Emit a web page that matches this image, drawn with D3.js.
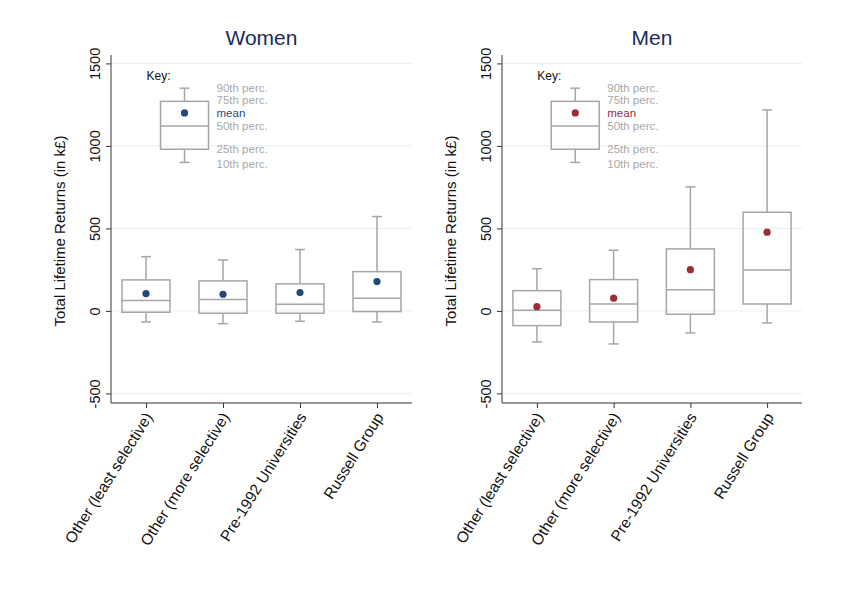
<!DOCTYPE html>
<html>
<head>
<meta charset="utf-8">
<script src="https://cdn.jsdelivr.net/npm/d3@7"></script>
<style>
  body { margin: 0; background: #fff; }
  text { font-family: "Liberation Sans", Arial, sans-serif; }
</style>
</head>
<body>
<svg id="chart" width="848" height="600"></svg>
<script>
// categories
const categories = ['Other (least selective)', 'Other (more selective)', 'Pre-1992 Universities', 'Russell Group'];
const yTicks = [-500, 0, 500, 1000, 1500];

// women: p10, p25, p50, p75, p90, mean (k£)
const womenP10 = [-67, -77, -63, -67];
const womenP25 = [-8, -14, -14, -4];
const womenP50 = [63, 69, 40, 77];
const womenP75 = [188, 182, 164, 238];
const womenP90 = [329, 309, 372, 572];
const womenMean = [105, 101, 111, 178];

// men
const menP10 = [-188, -200, -133, -73];
const menP25 = [-89, -67, -20, 42];
const menP50 = [4, 42, 129, 248];
const menP75 = [123, 190, 376, 598];
const menP90 = [256, 368, 752, 1218];
const menMean = [26, 77, 250, 477];

// key box
const keyStats = { p10: 900, p25: 980, p50: 1120, p75: 1270, p90: 1350, mean: 1200 };
const keyLabels = [
  { text: '90th perc.', v: 1352 },
  { text: '75th perc.', v: 1276 },
  { text: 'mean', v: 1198, mean: true },
  { text: '50th perc.', v: 1120 },
  { text: '25th perc.', v: 980 },
  { text: '10th perc.', v: 893 }
];

const svg = d3.select('#chart');
const boxColor = '#a6a6a6';
const plotTop = 55, plotBottom = 403;

function panel(opts) {
  const g = svg.append('g');
  const y = d3.scaleLinear().domain([-558, 1551]).range([plotBottom, plotTop]);
  const x = d3.scalePoint().domain(categories).range([opts.left, opts.right]).padding(0.455);
  const bw = 48;

  // grid
  g.append('g').selectAll('line').data(yTicks).join('line')
    .attr('x1', opts.left).attr('x2', opts.right)
    .attr('y1', d => y(d)).attr('y2', d => y(d))
    .attr('stroke', '#e6f0f0').attr('stroke-width', 1);

  // y axis
  const ya = g.append('g').attr('transform', `translate(${opts.left},0)`)
    .call(d3.axisLeft(y).tickValues(yTicks).tickFormat(d => String(d)).tickSize(5).tickSizeOuter(0));
  ya.select('.domain').attr('stroke', '#333').attr('d', `M0,${plotTop}V${plotBottom}`);
  ya.selectAll('.tick line').attr('stroke', '#333');
  ya.selectAll('.tick text')
    .attr('transform', 'rotate(-90)')
    .attr('x', 0).attr('y', -11)
    .attr('dy', 0)
    .attr('text-anchor', 'middle')
    .attr('font-size', 14.5).attr('fill', '#111');

  // x axis
  const xa = g.append('g').attr('transform', `translate(0,${plotBottom})`)
    .call(d3.axisBottom(x).tickSize(5).tickSizeOuter(0));
  xa.select('.domain').attr('stroke', '#333').attr('d', `M${opts.left},0H${opts.right}`);
  xa.selectAll('.tick line').attr('stroke', '#333');
  xa.selectAll('.tick text')
    .attr('transform', 'translate(2,11) rotate(-58)')
    .attr('x', 0).attr('y', 0).attr('dy', '0.35em')
    .attr('text-anchor', 'end')
    .attr('font-size', 15.5).attr('fill', '#111');

  // y label
  g.append('text')
    .attr('transform', `translate(${opts.left - 46},${(plotTop + plotBottom) / 2 + 2}) rotate(-90)`)
    .attr('text-anchor', 'middle').attr('font-size', 15).attr('fill', '#111')
    .text('Total Lifetime Returns (in k£)');

  // title
  g.append('text')
    .attr('x', (opts.left + opts.right) / 2).attr('y', 45)
    .attr('text-anchor', 'middle').attr('font-size', 21).attr('fill', '#1a2b5c')
    .text(opts.title);

  const rows = categories.map((c, i) => ({
    x: x(c), p10: opts.p10[i], p25: opts.p25[i], p50: opts.p50[i],
    p75: opts.p75[i], p90: opts.p90[i], mean: opts.mean[i]
  }));
  // key box sits between the first two categories
  const kx = (x(categories[0]) + x(categories[1])) / 2;
  rows.push(Object.assign({ x: kx }, keyStats));

  const b = g.append('g').selectAll('g').data(rows).join('g');
  b.append('line').attr('x1', d => d.x).attr('x2', d => d.x)
    .attr('y1', d => y(d.p75)).attr('y2', d => y(d.p90))
    .attr('stroke', boxColor).attr('stroke-width', 1.5);
  b.append('line').attr('x1', d => d.x).attr('x2', d => d.x)
    .attr('y1', d => y(d.p25)).attr('y2', d => y(d.p10))
    .attr('stroke', boxColor).attr('stroke-width', 1.5);
  b.append('line').attr('x1', d => d.x - 5).attr('x2', d => d.x + 5)
    .attr('y1', d => y(d.p90)).attr('y2', d => y(d.p90))
    .attr('stroke', boxColor).attr('stroke-width', 1.5);
  b.append('line').attr('x1', d => d.x - 5).attr('x2', d => d.x + 5)
    .attr('y1', d => y(d.p10)).attr('y2', d => y(d.p10))
    .attr('stroke', boxColor).attr('stroke-width', 1.5);
  b.append('rect')
    .attr('x', d => d.x - bw / 2).attr('width', bw)
    .attr('y', d => y(d.p75)).attr('height', d => y(d.p25) - y(d.p75))
    .attr('fill', 'none').attr('stroke', boxColor).attr('stroke-width', 1.5);
  b.append('line').attr('x1', d => d.x - bw / 2).attr('x2', d => d.x + bw / 2)
    .attr('y1', d => y(d.p50)).attr('y2', d => y(d.p50))
    .attr('stroke', boxColor).attr('stroke-width', 1.5);
  b.append('circle')
    .attr('cx', d => d.x).attr('cy', d => y(d.mean)).attr('r', 3.6)
    .attr('fill', opts.color);

  // key text
  g.append('text').attr('x', kx - 38).attr('y', y(1398))
    .attr('font-size', 12).attr('fill', '#111').text('Key:');
  g.append('g').selectAll('text').data(keyLabels).join('text')
    .attr('x', kx + 32).attr('y', d => y(d.v)).attr('dy', '0.35em')
    .attr('font-size', 11.5)
    .attr('fill', d => d.mean ? opts.color : '#a8a8a8')
    .text(d => d.text);
}

panel({ title: 'Women', left: 111, right: 412, color: '#1f4a78',
  p10: womenP10, p25: womenP25, p50: womenP50, p75: womenP75, p90: womenP90, mean: womenMean });
panel({ title: 'Men', left: 502, right: 802, color: '#9a2e36',
  p10: menP10, p25: menP25, p50: menP50, p75: menP75, p90: menP90, mean: menMean });
</script>
</body>
</html>
